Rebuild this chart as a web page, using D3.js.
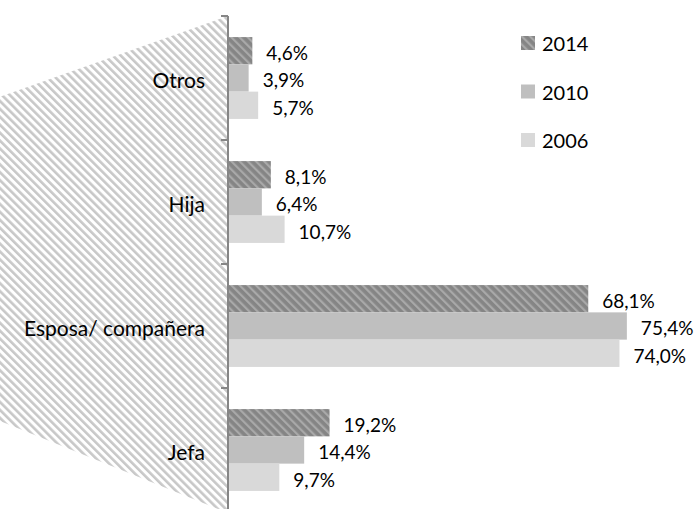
<!DOCTYPE html>
<html><head><meta charset="utf-8">
<script src="https://cdn.jsdelivr.net/npm/d3@7"></script>
<style>body{margin:0;background:#fff}svg{display:block}text{font-family:Lato,"Open Sans",sans-serif;fill:#000}</style>
</head><body><svg id="c" width="698" height="509"></svg>
<script>
const categories = ["Otros","Hija","Esposa/ compañera","Jefa"];
const seriesNames = ["2014","2010","2006"];
const v2014 = [4.6, 8.1, 68.1, 19.2];
const v2010 = [3.9, 6.4, 75.4, 14.4];
const v2006 = [5.7, 10.7, 74.0, 9.7];
const seriesValues = [v2014, v2010, v2006];

const svg = d3.select("#c");
const defs = svg.append("defs");
const pw = defs.append("pattern").attr("id","wall").attr("patternUnits","userSpaceOnUse")
  .attr("width",5.6).attr("height",5.6).attr("patternTransform","rotate(-45)");
pw.append("rect").attr("width",5.6).attr("height",5.6).attr("fill","#fff");
pw.append("rect").attr("width",2.6).attr("height",5.6).attr("fill","#c8c8c8");
const pb = defs.append("pattern").attr("id","hatch").attr("patternUnits","userSpaceOnUse")
  .attr("width",5.8).attr("height",5.8).attr("patternTransform","rotate(-45)");
pb.append("rect").attr("width",5.8).attr("height",5.8).attr("fill","#858585");
pb.append("rect").attr("width",2.2).attr("height",5.8).attr("fill","#a9a9a9");
const fills = ["url(#hatch)","#bfbfbf","#d9d9d9"];
const legendFills = ["url(#hatch)","#bfbfbf","#d9d9d9"];

const axisX = 228;
const x = d3.scaleLinear().domain([0,100]).range([axisX, axisX+529]);
const y0 = d3.scaleBand().domain(categories).range([16,512]).paddingInner(0.34).paddingOuter(0.17);
const y1 = d3.scaleBand().domain(seriesNames).range([0,y0.bandwidth()]);

// perspective side wall
svg.append("path")
  .attr("d", `M${axisX},16 L-40,111 L-40,405 L${axisX},513 Z`)
  .attr("fill","url(#wall)");

const fmt = v => d3.format(".1f")(v).replace(".",",") + "%";

const groups = svg.selectAll("g.cat").data(categories).join("g")
  .attr("transform", d => `translate(0,${y0(d)})`);
seriesNames.forEach((s,si)=>{
  groups.append("rect")
    .attr("x", axisX)
    .attr("y", y1(s))
    .attr("height", y1.bandwidth())
    .attr("width", (d,i)=> x(seriesValues[si][i]) - axisX)
    .attr("fill", fills[si]);
  groups.append("text")
    .attr("x",(d,i)=> x(seriesValues[si][i]) + 14)
    .attr("y", y1(s) + y1.bandwidth()/2 + 2)
    .attr("dominant-baseline","central")
    .attr("font-size",19)
    .text((d,i)=>fmt(seriesValues[si][i]));
});

// axis
svg.append("line").attr("x1",axisX).attr("x2",axisX).attr("y1",16).attr("y2",509)
  .attr("stroke","#868686").attr("stroke-width",2);
const bounds = categories.map(c=>y0(c)-y0.step()*y0.paddingOuter()).concat([512]);
svg.selectAll("line.tk").data(bounds).join("line")
  .attr("x1",axisX-7).attr("x2",axisX).attr("y1",d=>d).attr("y2",d=>d)
  .attr("stroke","#868686").attr("stroke-width",2);
svg.selectAll("text.cat").data(categories).join("text")
  .attr("x",205).attr("y",d=>y0(d)+y0.bandwidth()/2+1)
  .attr("text-anchor","end").attr("dominant-baseline","central")
  .attr("font-size",21).text(d=>d);

// legend
const lg = svg.append("g");
seriesNames.forEach((s,i)=>{
  const cy = 43 + i*48.5;
  lg.append("rect").attr("x",521).attr("y",cy-7).attr("width",14).attr("height",14).attr("fill",legendFills[i]);
  lg.append("text").attr("x",542).attr("y",cy).attr("dominant-baseline","central")
    .attr("font-size",20).text(s);
});
</script></body></html>
